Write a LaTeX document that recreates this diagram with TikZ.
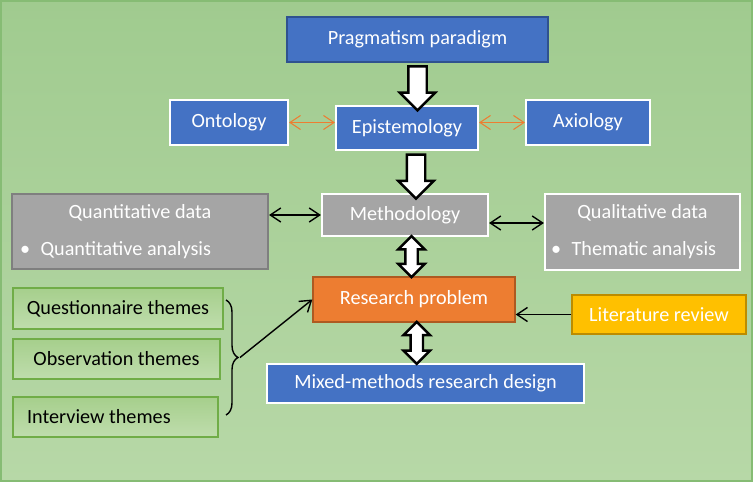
\documentclass[tikz,border=0pt]{standalone}
\usepackage{fontspec}
\setmainfont{Carlito}
\usepackage{xcolor}
\usetikzlibrary{calc, arrows.meta, shapes.arrows, decorations.pathreplacing, positioning}

\definecolor{boxblue}{HTML}{4472C4}
\definecolor{boxblueD}{HTML}{2F528F}
\definecolor{boxgray}{HTML}{A5A5A5}
\definecolor{boxgrayD}{HTML}{7F7F7F}
\definecolor{boxorange}{HTML}{ED7D31}
\definecolor{boxorangeD}{HTML}{AE5A21}
\definecolor{boxgold}{HTML}{FFC000}
\definecolor{boxgoldD}{HTML}{BC8C00}
\definecolor{boxgreenD}{HTML}{70AD47}
\definecolor{boxgreenT}{HTML}{A6CF8C}
\definecolor{boxgreenB}{HTML}{BFDDAD}
\definecolor{bgtop}{HTML}{A0CB8F}
\definecolor{bgbot}{HTML}{B7D8A7}
\definecolor{bgline}{HTML}{86BC74}

\begin{document}
\begin{tikzpicture}[>={Straight Barb[length=6pt, width=8pt]}, x=0.02cm, y=-0.02cm,
    every node/.style={font=\fontsize{11.5}{14}\selectfont},
    box/.style={rectangle, line width=1.2pt, inner sep=0pt, align=center},
    bluebox/.style={box, fill=boxblue, draw=white, text=white},
    graybox/.style={box, fill=boxgray, draw=white, text=white},
    greenbox/.style={box, top color=boxgreenT, bottom color=boxgreenB, draw=boxgreenD, line width=0.8pt, text=black},
    blockarrow/.style={single arrow, draw=black, fill=white, line width=1.4pt, rotate=-90,
        inner sep=0.16cm, single arrow head extend=0.17cm, minimum height=0.88cm},
    twoarrow/.style={double arrow, draw=black, fill=white, line width=1.4pt, rotate=90,
        inner sep=0.1cm, double arrow head extend=0.14cm},
    thin link/.style={<->, line width=0.8pt, black},
    orange link/.style={<->, line width=0.6pt, boxorange}]

    % 1. Nền xanh lá
    \fill[top color=bgtop, bottom color=bgbot] (0,0) rectangle (753,482);
    \draw[bgline, line width=1pt] (1,1) rectangle (752,481);

    % 2. Các khối chính
    \node[box, fill=boxblue, draw=boxblueD, text=white, line width=0.8pt,
        minimum width=5.22cm, minimum height=0.9cm] (prag) at (417.5,39.5) {Pragmatism paradigm};
    \node[bluebox, minimum width=2.36cm, minimum height=0.9cm] (onto) at (229,122.5) {Ontology};
    \node[bluebox, minimum width=2.84cm, minimum height=0.88cm] (epis) at (407,128) {Epistemology};
    \node[bluebox, minimum width=2.48cm, minimum height=0.9cm] (axio) at (588,122.5) {Axiology};

    \node[graybox, draw=boxgrayD, minimum width=5.12cm, minimum height=1.5cm,
        text width=4.8cm, align=flush left] (quant) at (140,231.5)
        {{\centering Quantitative data\par}\vspace{7pt}\textbullet\hspace{6pt}Quantitative analysis};
    \node[graybox, minimum width=3.32cm, minimum height=0.84cm] (meth) at (405,215) {Methodology};
    \node[graybox, minimum width=3.9cm, minimum height=1.52cm,
        text width=3.66cm, align=flush left] (qual) at (642.5,232)
        {{\centering Qualitative data\par}\vspace{7pt}\textbullet\hspace{6pt}Thematic analysis};

    \node[box, fill=boxorange, draw=boxorangeD, text=white, line width=0.8pt,
        minimum width=4.04cm, minimum height=0.9cm] (resp) at (414,299.5) {Research problem};
    \node[box, fill=boxgold, draw=boxgoldD, text=white, line width=0.8pt,
        minimum width=3.48cm, minimum height=0.78cm] (lit) at (659,314.5) {Literature review};
    \node[bluebox, minimum width=6.34cm, minimum height=0.78cm] (mixed) at (425.5,383.5) {Mixed-methods research design};

    \node[greenbox, minimum width=4.2cm, minimum height=0.82cm] (ques) at (118,308.5) {Questionnaire themes};
    \node[greenbox, minimum width=4.14cm, minimum height=0.8cm] (obs) at (116.5,359) {Observation themes};
    \node[greenbox, minimum width=4.1cm, minimum height=0.8cm,
        text width=3.54cm, align=flush left] (inter) at (115.5,417) {Interview themes};

    % 3. Mũi tên khối
    \node[blockarrow] (a1) at ($(prag.south)!0.5!(prag.south |- epis.north)$) {};
    \node[blockarrow] (a2) at ($(epis.south)!0.5!(meth.north) + (10,0)$) {};
    \node[twoarrow, minimum height=0.82cm] (a3) at ($(meth.south)!0.5!(resp.north) + (2,0)$) {};
    \node[twoarrow, minimum height=0.84cm] (a4) at ($(resp.south)!0.5!(mixed.north) + (-3,0)$) {};

    % 4. Mũi tên mảnh
    \draw[orange link] (onto.east) -- (onto.east -| epis.west);
    \draw[orange link] (axio.west -| epis.east) -- (axio.west);
    \draw[thin link] (meth.west -| quant.east) -- (meth.west);
    \draw[thin link] ([yshift=-0.16cm]meth.east) -- ([yshift=-0.16cm]meth.east -| qual.west);
    \draw[->, line width=0.8pt] (lit.west) -- (lit.west -| resp.east);

    % 5. Dấu ngoặc nhọn gom các chủ đề
    \draw[line width=0.8pt, decorate, decoration={brace, amplitude=0.24cm}] (226,300) -- (226,415);
    \coordinate (brtip) at (240,357.5);
    \draw[->, line width=0.8pt] (brtip) -- (resp.west);

\end{tikzpicture}
\end{document}
